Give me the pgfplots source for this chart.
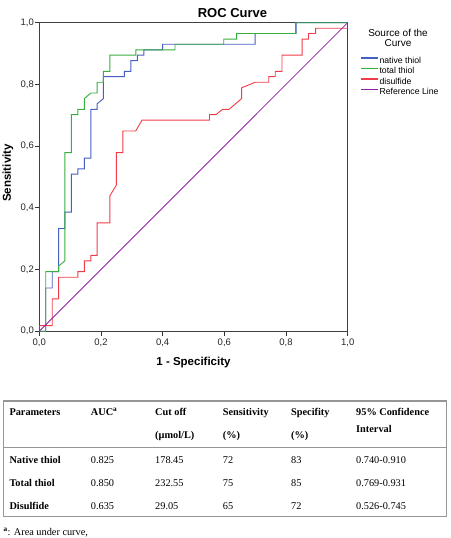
\documentclass[border=0pt]{standalone}
\usepackage{fontspec}
\setmainfont{Liberation Sans}
\newfontfamily\tabfont{Liberation Serif}
\usepackage{pgfplots}
\pgfplotsset{compat=1.18}
\definecolor{cblue}{RGB}{70,95,195}
\definecolor{cgreen}{RGB}{55,175,60}
\definecolor{cred}{RGB}{240,60,70}
\definecolor{cpurple}{RGB}{140,30,160}
\definecolor{tline}{RGB}{150,150,150}
\begin{document}
\begin{tikzpicture}[
  tb/.style={anchor=base west, inner sep=0pt, font=\tabfont\bfseries\fontsize{10.3}{12}\selectfont},
  tr/.style={anchor=base west, inner sep=0pt, font=\tabfont\fontsize{10.3}{12}\selectfont}]
\path[use as bounding box] (0pt,0pt) rectangle (450pt,-538pt);
\begin{axis}[
  at={(39.3pt,-331.2pt)}, anchor=south west,
  scale only axis, width=308.4pt, height=308.5pt,
  xmin=0, xmax=1, ymin=0, ymax=1,
  xtick={0,0.2,0.4,0.6,0.8,1}, ytick={0,0.2,0.4,0.6,0.8,1},
  tick pos=left, tick align=outside, major tick length=4.3pt,
  tick style={black!80, line width=0.8pt},
  axis line style={black!75, line width=1pt},
  ticklabel style={font=\fontsize{9.5}{10}\selectfont, black!85},
  yticklabel style={inner xsep=1pt},
  /pgf/number format/use comma, /pgf/number format/fixed,
  /pgf/number format/fixed zerofill, /pgf/number format/precision=1,
  /pgf/number format/assume math mode=true,
  xlabel={1 - Specificity}, ylabel={Sensitivity},
  xlabel style={at={(axis description cs:0.5,-0.1008)}, anchor=center, font=\bfseries\fontsize{11.5}{12}\selectfont},
  ylabel style={at={(axis description cs:-0.1015,0.513)}, anchor=center, rotate=0, font=\bfseries\fontsize{11.5}{12}\selectfont},
  legend style={at={(axis description cs:1.04,0.889)}, anchor=north west, draw=none, fill=none, inner sep=0pt,
    font=\fontsize{8.7}{9}\selectfont, row sep=4pt, column sep=1pt,
    nodes={inner sep=0pt, text height=6.4pt, text depth=0pt}},
  legend cell align=left,
  legend image code/.code={\draw[#1, line width=1.3pt] (0pt,2.2pt) -- (17pt,2.2pt);},
]
\addplot[cblue, line width=0.9pt] coordinates {
(0,0) (0.021,0) (0.021,0.140) (0.042,0.140) (0.042,0.193) (0.0625,0.193) (0.0625,0.333)
(0.083,0.333) (0.083,0.386) (0.104,0.386) (0.104,0.509) (0.125,0.509) (0.125,0.526)
(0.146,0.526) (0.146,0.561) (0.167,0.561) (0.167,0.719) (0.1875,0.719) (0.1875,0.737)
(0.208,0.754) (0.208,0.825) (0.276,0.825) (0.276,0.842) (0.297,0.842) (0.297,0.877)
(0.318,0.877) (0.318,0.895) (0.339,0.895) (0.339,0.912) (0.40,0.912) (0.40,0.930)
(0.70,0.930) (0.70,0.965) (0.833,0.965) (0.833,1) (1,1)};
\addlegendentry{native thiol}
\addplot[cgreen, line width=0.9pt] coordinates {
(0,0) (0.021,0) (0.021,0.193) (0.0625,0.193) (0.0625,0.211) (0.083,0.228) (0.083,0.579)
(0.104,0.579) (0.104,0.702) (0.125,0.702) (0.125,0.719) (0.146,0.719) (0.146,0.754)
(0.167,0.772) (0.1875,0.772) (0.1875,0.807) (0.208,0.807) (0.208,0.842) (0.229,0.842)
(0.229,0.895) (0.313,0.895) (0.313,0.912) (0.440,0.912) (0.440,0.930) (0.598,0.930)
(0.598,0.947) (0.640,0.947) (0.640,0.965) (0.831,0.965) (0.831,1) (1,1)};
\addlegendentry{total thiol}
\addplot[cred, line width=0.9pt] coordinates {
(0,0) (0,0.018) (0.042,0.018) (0.042,0.105) (0.0625,0.105) (0.0625,0.175) (0.125,0.175)
(0.125,0.193) (0.146,0.193) (0.146,0.228) (0.167,0.228) (0.167,0.246) (0.1875,0.246)
(0.1875,0.351) (0.229,0.351) (0.229,0.439) (0.25,0.474) (0.25,0.579) (0.271,0.579)
(0.271,0.649) (0.3125,0.649) (0.333,0.684) (0.552,0.684) (0.552,0.702) (0.573,0.702)
(0.594,0.719) (0.615,0.719) (0.656,0.754) (0.656,0.789) (0.700,0.807) (0.744,0.807)
(0.744,0.825) (0.765,0.825) (0.765,0.842) (0.787,0.842) (0.787,0.895) (0.852,0.895)
(0.852,0.947) (0.873,0.947) (0.873,0.965) (0.896,0.965) (0.896,0.982) (1,0.982) (1,1)};
\addlegendentry{disulfide}
\addplot[cpurple, line width=0.8pt] coordinates {(0,0) (1,1)};
\addlegendentry{Reference Line}
\end{axis}
\node[font=\bfseries\fontsize{13}{15}\selectfont] at (232.5pt,-13pt) {ROC Curve};
\node[align=center, font=\fontsize{10}{10}\selectfont, inner sep=0pt] at (398pt,-38.3pt) {Source of the\\Curve};
% table
\draw[tline, line width=1.1pt] (3.3pt,-401pt) rectangle (446.7pt,-516.7pt);
\draw[tline, line width=1pt] (3.3pt,-447pt) -- (446.7pt,-447pt);
\node[tb] at (9.3pt,-415.5pt) {Parameters};
\node[tb] at (90.7pt,-415.5pt) {AUC\textsuperscript{a}};
\node[tb] at (155pt,-415.5pt) {Cut off};
\node[tb] at (222.7pt,-415.5pt) {Sensitivity};
\node[tb] at (291pt,-415.5pt) {Specifity};
\node[tb] at (356pt,-415.5pt) {95\% Confidence};
\node[tb] at (155pt,-438.5pt) {(µmol/L)};
\node[tb] at (222.7pt,-438.5pt) {(\%)};
\node[tb] at (291pt,-438.5pt) {(\%)};
\node[tb] at (356pt,-432pt) {Interval};
\node[tb] at (9.3pt,-463.4pt) {Native thiol};
\node[tr] at (90.7pt,-463.4pt) {0.825};
\node[tr] at (155pt,-463.4pt) {178.45};
\node[tr] at (222.7pt,-463.4pt) {72};
\node[tr] at (291pt,-463.4pt) {83};
\node[tr] at (356pt,-463.4pt) {0.740-0.910};
\node[tb] at (9.3pt,-486.1pt) {Total thiol};
\node[tr] at (90.7pt,-486.1pt) {0.850};
\node[tr] at (155pt,-486.1pt) {232.55};
\node[tr] at (222.7pt,-486.1pt) {75};
\node[tr] at (291pt,-486.1pt) {85};
\node[tr] at (356pt,-486.1pt) {0.769-0.931};
\node[tb] at (9.3pt,-509.4pt) {Disulfide};
\node[tr] at (90.7pt,-509.4pt) {0.635};
\node[tr] at (155pt,-509.4pt) {29.05};
\node[tr] at (222.7pt,-509.4pt) {65};
\node[tr] at (291pt,-509.4pt) {72};
\node[tr] at (356pt,-509.4pt) {0.526-0.745};
\node[tr] at (3.3pt,-535.5pt) {\textsuperscript{\bfseries a}: Area under curve,};
\end{tikzpicture}
\end{document}
